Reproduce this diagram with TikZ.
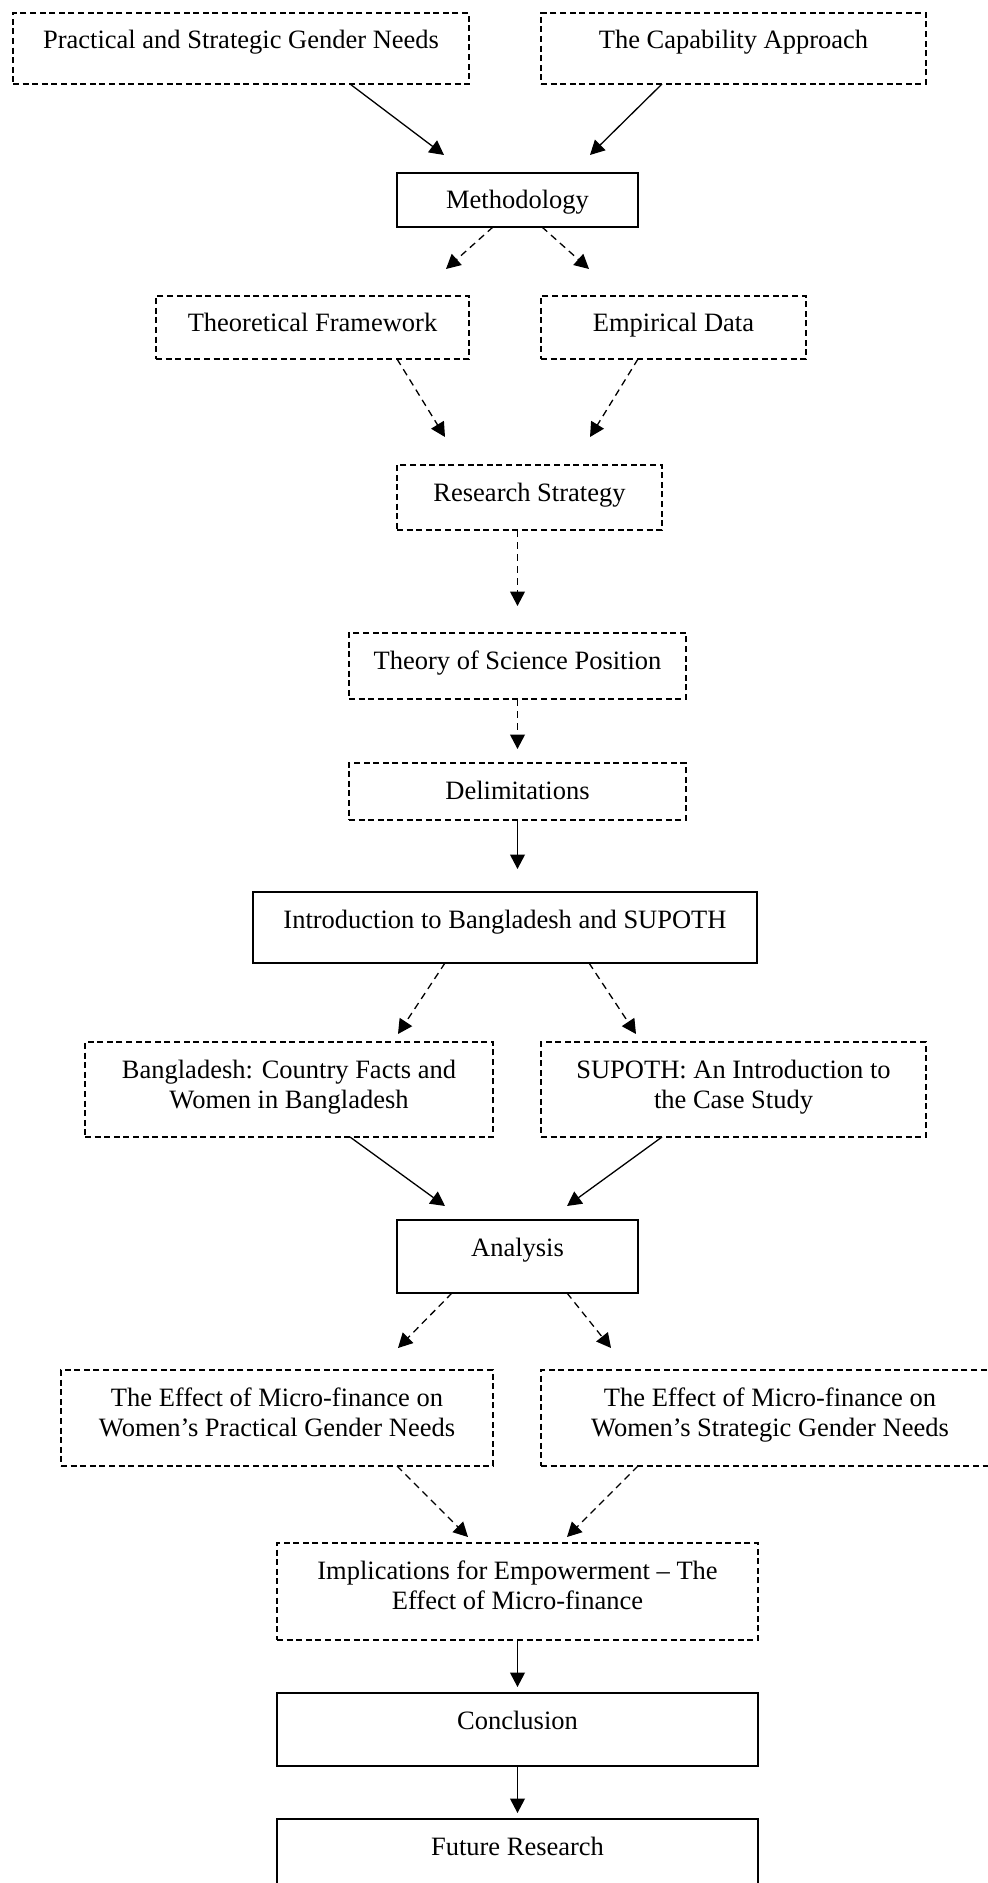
\documentclass[tikz,border=0pt]{standalone}
\usepackage{fontspec}
\setmainfont{Liberation Serif}
\usetikzlibrary{arrows.meta,calc}
\tikzset{
  bx/.style={draw=black, line width=0.7pt, rectangle, inner xsep=0pt, inner ysep=0pt, outer sep=0pt,
    text height=18pt, font=\fontsize{13.25}{15.3}\selectfont},
  dbx/.style={bx, dash pattern=on 3pt off 1.8pt},
  conn/.style={line width=0.65pt, -{Triangle[length=7.2pt,width=7.4pt]}},
  dconn/.style={conn, dash pattern=on 3.5pt off 2.5pt},
}
\newcommand{\twol}[2]{\begin{tabular}[t]{@{}c@{}}#1\\#2\end{tabular}}
\begin{document}
\begin{tikzpicture}[x=0.5pt,y=-0.5pt]
\useasboundingbox (0,0) rectangle (988,1883);
\fill[white] (0,0) rectangle (988,1883);
\clip (0,0) rectangle (988,1883);
% boxes
\node[dbx, minimum width=228pt, text depth=17.5pt] (psg) at (241,48.5) {Practical and Strategic Gender Needs};
\node[dbx, minimum width=192.5pt, text depth=17.5pt] (cap) at (733.5,48.5) {The Capability Approach};
\node[bx, minimum width=120.5pt, text depth=9pt] (meth) at (517.5,200) {Methodology};
\node[dbx, minimum width=156.5pt, text depth=13.5pt] (tf) at (312.5,327.5) {Theoretical Framework};
\node[dbx, minimum width=132.5pt, text depth=13.5pt] (ed) at (673.5,327.5) {Empirical Data};
\node[dbx, minimum width=132.5pt, text depth=14.5pt] (rs) at (529.5,497.5) {Research Strategy};
\node[dbx, minimum width=168.5pt, text depth=15pt] (tsp) at (517.5,666) {Theory of Science Position};
\node[dbx, minimum width=168.5pt, text depth=10.5pt] (del) at (517.5,791.5) {Delimitations};
\node[bx, minimum width=252pt, text depth=17.5pt] (intro) at (505,927.5) {Introduction to Bangladesh and SUPOTH};
\node[dbx, minimum width=204pt, text depth=29.5pt] (bd) at (289,1089.5) {\twol{Bangladesh: Country Facts and}{Women in Bangladesh}};
\node[dbx, minimum width=192.5pt, text depth=29.5pt] (sup) at (733.5,1089.5) {\twol{SUPOTH: An Introduction to}{the Case Study}};
\node[bx, minimum width=120.5pt, text depth=18.5pt] (ana) at (517.5,1256.5) {Analysis};
\node[dbx, minimum width=216pt, text depth=30pt] (pgn) at (277,1418) {\twol{The Effect of Micro-finance on}{Women’s Practical Gender Needs}};
\node[dbx, minimum width=229pt, text depth=30pt] (sgn) at (770,1418) {\twol{The Effect of Micro-finance on}{Women’s Strategic Gender Needs}};
\node[dbx, minimum width=240.5pt, text depth=30.5pt] (imp) at (517.5,1591.5) {\twol{Implications for Empowerment – The}{Effect of Micro-finance}};
\node[bx, minimum width=240.5pt, text depth=18.5pt] (con) at (517.5,1729.5) {Conclusion};
\node[bx, minimum width=240.5pt, text depth=18.5pt] (fut) at (517.5,1855.5) {Future Research};
% connectors
\draw[conn]  ($(psg.south)+(109,0)$) -- ($(meth.north)+(-73.5,-18)$);
\draw[conn]  ($(cap.south)+(-71.5,0)$) -- ($(meth.north)+(72.5,-18)$);
\draw[dconn] ($(meth.south)+(-24.5,0)$) -- ($(tf.north)+(133.5,-27)$);
\draw[dconn] ($(meth.south)+(24.5,0)$) -- ($(ed.north)+(-84.5,-27)$);
\draw[dconn] ($(tf.south)+(84.5,0)$) -- ($(rs.north)+(-84.5,-28)$);
\draw[dconn] ($(ed.south)+(-35.5,0)$) -- ($(rs.north)+(60.5,-28)$);
\draw[dconn] (rs.south -| tsp.north) -- ($(tsp.north)+(0,-27)$);
\draw[dconn] (tsp.south) -- ($(del.north)+(0,-14)$);
\draw[conn]  (del.south) -- ($(intro.north -| del.south)+(0,-23)$);
\draw[dconn] ($(intro.south)+(-60,0)$) -- ($(bd.north)+(109,-8)$);
\draw[dconn] ($(intro.south)+(84,0)$) -- ($(sup.north)+(-97.5,-8)$);
\draw[conn]  ($(bd.south)+(61,0)$) -- ($(ana.north)+(-72.5,-14)$);
\draw[conn]  ($(sup.south)+(-71.5,0)$) -- ($(ana.north)+(49.5,-14)$);
\draw[dconn] ($(ana.south)+(-65.5,0)$) -- ($(pgn.north)+(121,-22)$);
\draw[dconn] ($(ana.south)+(49.5,0)$) -- ($(sgn.north)+(-159,-22)$);
\draw[dconn] ($(pgn.south)+(120,0)$) -- ($(imp.north)+(-49.5,-6)$);
\draw[dconn] ($(sgn.south)+(-132,0)$) -- ($(imp.north)+(49.5,-6)$);
\draw[conn]  (imp.south) -- ($(con.north)+(0,-6)$);
\draw[conn]  (con.south) -- ($(fut.north)+(0,-6)$);
\end{tikzpicture}
\end{document}
